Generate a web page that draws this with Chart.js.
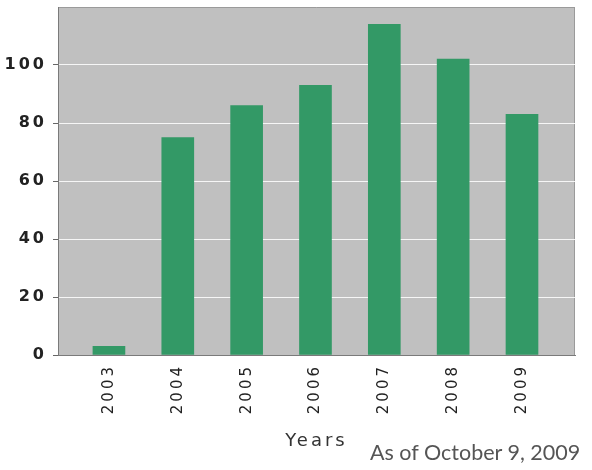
<!DOCTYPE html>
<html><head><meta charset="utf-8">
<script src="https://cdn.jsdelivr.net/npm/chart.js@4/dist/chart.umd.min.js"></script>
<style>
html,body{margin:0;padding:0;background:#fff;}
#wrap{position:relative;width:592px;height:470px;}
#note{position:absolute;left:370px;top:439px;font-family:Lato,'Open Sans',sans-serif;font-size:21.5px;line-height:26px;color:#555;white-space:nowrap;}
</style></head>
<body>
<div id="wrap"><canvas id="c" width="592" height="470"></canvas><div id="note">As of October 9, 2009</div></div>
<script>
const categories = ['2003','2004','2005','2006','2007','2008','2009'];
const counts = [3, 75, 86, 93, 114, 102, 83];
const yTicks = [0, 20, 40, 60, 80, 100];

const SPACING = '3px';
const bgPlugin = {
  id: 'bg',
  beforeInit(chart) { chart.ctx.letterSpacing = SPACING; },
  beforeUpdate(chart) { chart.ctx.letterSpacing = SPACING; },
  beforeDraw(chart) {
    const {ctx, chartArea: a} = chart;
    ctx.letterSpacing = SPACING;
    ctx.save();
    ctx.fillStyle = '#c0c0c0';
    ctx.fillRect(a.left, a.top, a.right - a.left, a.bottom - a.top);
    ctx.strokeStyle = '#9a9a9a';
    ctx.lineWidth = 1;
    ctx.beginPath();
    ctx.moveTo(a.left, a.top + 0.5); ctx.lineTo(a.right, a.top + 0.5);
    ctx.moveTo(a.right - 0.5, a.top); ctx.lineTo(a.right - 0.5, a.bottom);
    ctx.stroke();
    ctx.restore();
  }
};

const fam = "'DejaVu Sans', sans-serif";

new Chart(document.getElementById('c'), {
  type: 'bar',
  data: {
    datasets: [{
      data: categories.map((c, i) => ({x: i, y: counts[i]})),
      backgroundColor: '#339966',
      barThickness: 32
    }]
  },
  options: {
    responsive: false,
    animation: false,
    plugins: {legend: {display: false}, tooltip: {enabled: false}},
    layout: {padding: {top: 7, right: 17, left: 0, bottom: 0}},
    scales: {
      x: {
        type: 'linear',
        min: -0.74,
        max: 6.77,
        offset: false,
        afterBuildTicks(s) { s.ticks = categories.map((c, i) => ({value: i})); },
        afterFit(s) { s.height = 115; s.paddingLeft = 0; s.paddingRight = 0; },
        ticks: {
          autoSkip: false,
          minRotation: 90, maxRotation: 90,
          padding: 9,
          color: '#222',
          font: {family: fam, size: 15},
          callback: (v) => categories[v] ?? ''
        },
        grid: {display: false, drawTicks: false},
        border: {display: true, color: '#7a7a7a', width: 1},
        title: {
          display: true, text: 'Years',
          color: '#333',
          font: {family: fam, size: 18},
          padding: {top: 4, bottom: 18}
        }
      },
      y: {
        min: 0, max: 120,
        afterBuildTicks(s) { s.ticks = yTicks.concat([120]).map(v => ({value: v})); },
        afterFit(s) { s.width = 58; s.paddingTop = 0; s.paddingBottom = 0; },
        ticks: {
          padding: 6,
          color: '#222',
          font: {family: fam, size: 16, weight: 'bold'},
          callback: (v) => yTicks.includes(v) ? String(v) : ''
        },
        grid: {
          color: (ctx) => (ctx.tick && ctx.tick.value > 0 && ctx.tick.value < 120) ? 'rgba(255,255,255,0.85)' : 'rgba(0,0,0,0)',
          borderDash: [2, 2],
          lineWidth: 1,
          tickLength: 5,
          tickColor: (ctx) => (ctx.tick && ctx.tick.value < 120) ? '#666' : 'rgba(0,0,0,0)',
          tickBorderDash: []
        },
        border: {display: true, color: '#7a7a7a', width: 1}
      }
    }
  },
  plugins: [bgPlugin]
});
</script>
</body></html>
